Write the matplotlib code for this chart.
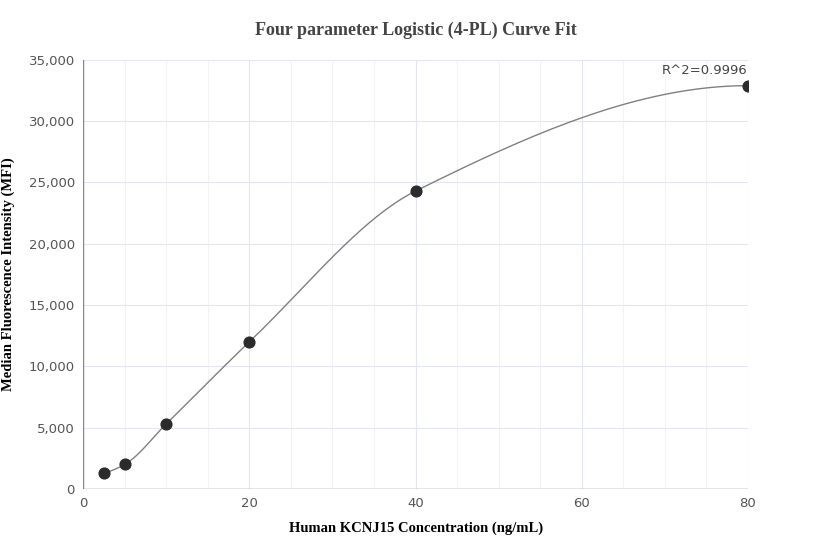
import numpy as np
import matplotlib
matplotlib.use("Agg")
import matplotlib.pyplot as plt

conc = [2.5, 5, 10, 20, 40, 80]
mfi = [1300, 2000, 5300, 12000, 24300, 32900]
r2_label = "R^2=0.9996"


def smooth(x, y, n=40):
    # monotone cubic Hermite (PCHIP-style) through the points
    x = np.asarray(x, float)
    y = np.asarray(y, float)
    h = np.diff(x)
    d = np.diff(y) / h
    m = np.zeros_like(y)
    for k in range(1, len(x) - 1):
        w1 = 2 * h[k] + h[k - 1]
        w2 = h[k] + 2 * h[k - 1]
        m[k] = (w1 + w2) / (w1 / d[k - 1] + w2 / d[k])
    m[0] = max(0, ((2 * h[0] + h[1]) * d[0] - h[0] * d[1]) / (h[0] + h[1]))
    m[-1] = max(0, ((2 * h[-1] + h[-2]) * d[-1] - h[-1] * d[-2]) / (h[-1] + h[-2]))
    xs, ys = [], []
    for i in range(len(x) - 1):
        t = np.linspace(0, 1, n)
        h00 = 2 * t**3 - 3 * t**2 + 1
        h10 = t**3 - 2 * t**2 + t
        h01 = -2 * t**3 + 3 * t**2
        h11 = t**3 - t**2
        xs.append(x[i] + t * h[i])
        ys.append(h00 * y[i] + h10 * h[i] * m[i] + h01 * y[i + 1] + h11 * h[i] * m[i + 1])
    return np.concatenate(xs), np.concatenate(ys)


fig = plt.figure(figsize=(8.32, 5.6), dpi=100)
ax = fig.add_axes([0.1, 0.127, 0.799, 0.766])

cx, cy = smooth(conc, mfi)
ax.plot(cx, cy, color="#808080", lw=1, zorder=2)
ax.scatter(conc, mfi, s=60, color="#2b2b2b", zorder=3)
ax.text(conc[-1], mfi[-1] + 700, r2_label, ha="right", va="bottom",
        fontsize=9.5, color="#444444")

ax.set_xlim(0, 80)
ax.set_ylim(0, 35000)
ax.set_xticks(range(0, 81, 20))
ax.set_xticks(range(0, 81, 5), minor=True)
ax.set_yticks(range(0, 35001, 5000))
ax.set_yticklabels([f"{v:,}" for v in range(0, 35001, 5000)])
ax.grid(which="major", color="#e3e6ee", lw=0.8)
ax.grid(which="minor", axis="x", color="#f2f3f7", lw=0.8)
ax.set_axisbelow(True)
for s in ax.spines.values():
    s.set_visible(False)
ax.axvline(0, color="#888888", lw=1)
ax.axhline(0, color="#888888", lw=1)
ax.tick_params(which="both", length=0, labelsize=9.5, colors="#555555", pad=6)

ax.set_title("Four parameter Logistic (4-PL) Curve Fit", fontsize=13,
             fontweight="bold", family="Liberation Serif", color="#444444", pad=18)
ax.set_xlabel("Human KCNJ15 Concentration (ng/mL)", fontsize=10.5,
              fontweight="bold", family="Liberation Serif", labelpad=8)
ax.set_ylabel("Median Fluorescence Intensity (MFI)", fontsize=10.5,
              fontweight="bold", family="Liberation Serif", labelpad=10)

fig.savefig("out.png", dpi=100)
